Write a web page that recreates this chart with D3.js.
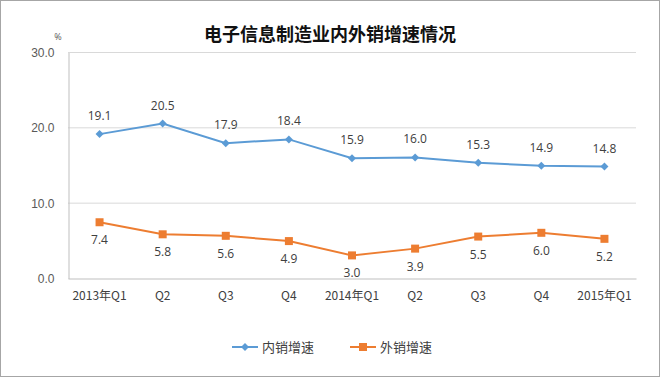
<!DOCTYPE html>
<html>
<head>
<meta charset="utf-8">
<script src="https://cdn.jsdelivr.net/npm/d3@7"></script>
<style>
  body { margin: 0; background: #fff; }
  svg { display: block; font-family: "Open Sans", "Noto Sans CJK SC", sans-serif; }
</style>
</head>
<body>
<svg width="660" height="377"></svg>
<script>
const quarters = ["2013年Q1", "Q2", "Q3", "Q4", "2014年Q1", "Q2 ", "Q3 ", "Q4 ", "2015年Q1"];
const domesticGrowth = [19.1, 20.5, 17.9, 18.4, 15.9, 16.0, 15.3, 14.9, 14.8];
const exportGrowth = [7.4, 5.8, 5.6, 4.9, 3.0, 3.9, 5.5, 6.0, 5.2];
const yTicks = [0, 10, 20, 30];

const series = [
    { name: "内销增速", values: domesticGrowth, color: "#5B9BD5", shape: "diamond", labelDy: -14 },
    { name: "外销增速", values: exportGrowth, color: "#ED7D31", shape: "square", labelDy: 22 }
];

const svg = d3.select("svg");
const area = { left: 68, right: 636, top: 52, bottom: 278 };

svg.append("rect")
    .attr("x", 0.5).attr("y", 0.5)
    .attr("width", 659).attr("height", 376)
    .attr("fill", "#fff")
    .attr("stroke", "#A6A6A6");

svg.append("text")
    .attr("x", 330).attr("y", 41)
    .attr("text-anchor", "middle")
    .style("font-family", "'Noto Sans CJK SC', sans-serif")
    .style("font-size", "18px")
    .style("font-weight", "bold")
    .attr("fill", "#111")
    .text("电子信息制造业内外销增速情况");

svg.append("text")
    .attr("x", 58).attr("y", 40)
    .attr("text-anchor", "middle")
    .style("font-size", "9px")
    .attr("fill", "#595959")
    .text("%");

const scX = d3.scaleBand()
    .domain(quarters)
    .range([area.left, area.right]);

const scY = d3.scaleLinear()
    .domain([0, 30])
    .range([area.bottom, area.top]);

// grid lines
svg.append("g")
    .selectAll("line")
    .data(yTicks.filter(d => d > 0))
    .enter()
    .append("line")
    .attr("x1", area.left).attr("x2", area.right)
    .attr("y1", d => scY(d) + 0.5).attr("y2", d => scY(d) + 0.5)
    .attr("stroke", "#D9D9D9");

// y axis
const axisY = d3.axisLeft(scY)
    .tickValues(yTicks)
    .tickFormat(d3.format(".1f"))
    .tickSize(0)
    .tickPadding(14);

const gY = svg.append("g")
    .attr("transform", `translate(${area.left + 0.5}, 0.5)`)
    .call(axisY);
gY.select(".domain").attr("stroke", "#BFBFBF");
gY.selectAll("text").style("font-size", "12px").attr("fill", "#595959");

// x axis
const axisX = d3.axisBottom(scX)
    .tickSize(0)
    .tickPadding(13);

const gX = svg.append("g")
    .attr("transform", `translate(0, ${area.bottom + 0.5})`)
    .call(axisX);
gX.select(".domain").attr("stroke", "#BFBFBF");
gX.selectAll("text")
    .style("font-size", "12px")
    .style("font-family", "'Noto Sans CJK SC', sans-serif")
    .attr("fill", "#404040");

const cx = (d, i) => scX(quarters[i]) + scX.bandwidth() / 2;

const line = d3.line()
    .x((d, i) => cx(d, i))
    .y(d => scY(d));

function marker(g, shape, color) {
    if (shape === "diamond") {
        g.append("path").attr("d", "M0,-4L4,0L0,4L-4,0Z").attr("fill", color);
    } else {
        g.append("rect").attr("x", -4).attr("y", -4).attr("width", 8).attr("height", 8).attr("fill", color);
    }
}

series.forEach(s => {
    svg.append("path")
        .datum(s.values)
        .attr("fill", "none")
        .attr("stroke", s.color)
        .attr("stroke-width", 2)
        .attr("d", line);

    svg.append("g")
        .selectAll("g")
        .data(s.values)
        .enter()
        .append("g")
        .attr("transform", (d, i) => `translate(${cx(d, i)}, ${scY(d)})`)
        .each(function () { marker(d3.select(this), s.shape, s.color); });

    svg.append("g")
        .selectAll("text")
        .data(s.values)
        .enter()
        .append("text")
        .attr("x", (d, i) => cx(d, i))
        .attr("y", d => scY(d) + s.labelDy)
        .attr("text-anchor", "middle")
        .style("font-size", "12px")
        .attr("fill", "#404040")
        .text(d => d.toFixed(1));
});

// legend
const legend = svg.append("g");
const legendX = [232, 350];
series.forEach((s, i) => {
    const g = legend.append("g").attr("transform", `translate(${legendX[i]}, 347)`);
    g.append("line").attr("x1", 0).attr("x2", 26).attr("stroke", s.color).attr("stroke-width", 2);
    const m = g.append("g").attr("transform", "translate(13, 0)");
    marker(m, s.shape, s.color);
    g.append("text")
        .attr("x", 30).attr("y", 5)
        .style("font-size", "13px")
        .style("font-family", "'Noto Sans CJK SC', sans-serif")
        .attr("fill", "#404040")
        .text(s.name);
});
</script>
</body>
</html>
